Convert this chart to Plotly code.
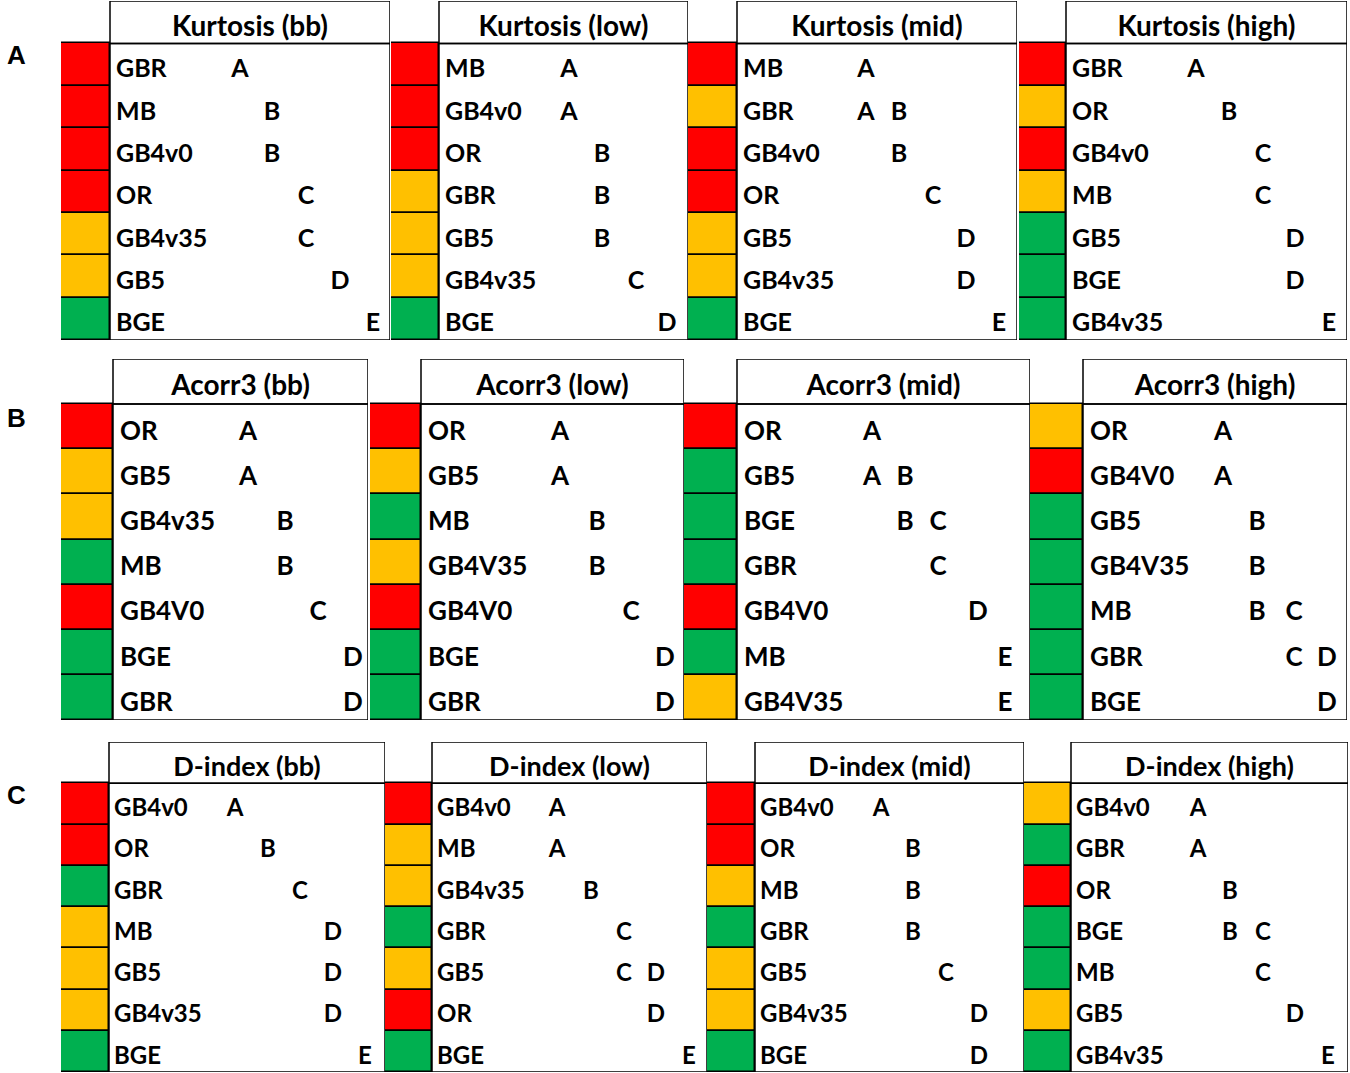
import plotly.graph_objects as go

# ---- data: one list per panel (model order, letter groups, colour class) ----
kurt_titles = ["Kurtosis (bb)", "Kurtosis (low)", "Kurtosis (mid)", "Kurtosis (high)"]
kurt_bb_models = ["GBR", "MB", "GB4v0", "OR", "GB4v35", "GB5", "BGE"]
kurt_bb_groups = ["A", "B", "B", "C", "C", "D", "E"]
kurt_bb_colors = ["r", "r", "r", "r", "o", "o", "g"]
kurt_low_models = ["MB", "GB4v0", "OR", "GBR", "GB5", "GB4v35", "BGE"]
kurt_low_groups = ["A", "A", "B", "B", "B", "C", "D"]
kurt_low_colors = ["r", "r", "r", "o", "o", "o", "g"]
kurt_mid_models = ["MB", "GBR", "GB4v0", "OR", "GB5", "GB4v35", "BGE"]
kurt_mid_groups = ["A", "AB", "B", "C", "D", "D", "E"]
kurt_mid_colors = ["r", "o", "r", "r", "o", "o", "g"]
kurt_high_models = ["GBR", "OR", "GB4v0", "MB", "GB5", "BGE", "GB4v35"]
kurt_high_groups = ["A", "B", "C", "C", "D", "D", "E"]
kurt_high_colors = ["r", "o", "r", "o", "g", "g", "g"]

acorr_titles = ["Acorr3 (bb)", "Acorr3 (low)", "Acorr3 (mid)", "Acorr3 (high)"]
acorr_bb_models = ["OR", "GB5", "GB4v35", "MB", "GB4V0", "BGE", "GBR"]
acorr_bb_groups = ["A", "A", "B", "B", "C", "D", "D"]
acorr_bb_colors = ["r", "o", "o", "g", "r", "g", "g"]
acorr_low_models = ["OR", "GB5", "MB", "GB4V35", "GB4V0", "BGE", "GBR"]
acorr_low_groups = ["A", "A", "B", "B", "C", "D", "D"]
acorr_low_colors = ["r", "o", "g", "o", "r", "g", "g"]
acorr_mid_models = ["OR", "GB5", "BGE", "GBR", "GB4V0", "MB", "GB4V35"]
acorr_mid_groups = ["A", "AB", "BC", "C", "D", "E", "E"]
acorr_mid_colors = ["r", "g", "g", "g", "r", "g", "o"]
acorr_high_models = ["OR", "GB4V0", "GB5", "GB4V35", "MB", "GBR", "BGE"]
acorr_high_groups = ["A", "A", "B", "B", "BC", "CD", "D"]
acorr_high_colors = ["o", "r", "g", "g", "g", "g", "g"]

dindex_titles = ["D-index (bb)", "D-index (low)", "D-index (mid)", "D-index (high)"]
dindex_bb_models = ["GB4v0", "OR", "GBR", "MB", "GB5", "GB4v35", "BGE"]
dindex_bb_groups = ["A", "B", "C", "D", "D", "D", "E"]
dindex_bb_colors = ["r", "r", "g", "o", "o", "o", "g"]
dindex_low_models = ["GB4v0", "MB", "GB4v35", "GBR", "GB5", "OR", "BGE"]
dindex_low_groups = ["A", "A", "B", "C", "CD", "D", "E"]
dindex_low_colors = ["r", "o", "o", "g", "o", "r", "g"]
dindex_mid_models = ["GB4v0", "OR", "MB", "GBR", "GB5", "GB4v35", "BGE"]
dindex_mid_groups = ["A", "B", "B", "B", "C", "D", "D"]
dindex_mid_colors = ["r", "r", "o", "g", "o", "o", "g"]
dindex_high_models = ["GB4v0", "GBR", "OR", "BGE", "MB", "GB5", "GB4v35"]
dindex_high_groups = ["A", "A", "B", "BC", "C", "D", "E"]
dindex_high_colors = ["o", "g", "r", "g", "g", "o", "g"]

row_letters = ["A", "B", "C"]

COLORS = {"r": "#FF0000", "o": "#FFC000", "g": "#00B050"}
W, H = 1350, 1073
FONT = "Lato"

# ---- layout geometry (pixels): block rows, then panels in each row ----
rows_geo = [
    dict(top=1, head=43, bottom=340, size=25, tsize=28, pad=6, label_y=55),
    dict(top=359, head=403, bottom=720, size=26, tsize=28, pad=7, label_y=418),
    dict(top=742, head=782, bottom=1072, size=24, tsize=27, pad=5, label_y=795),
]
panels_geo = [
    [(61, 110, 390, [240, 272, 306, 340, 373]),
     (391, 439, 688, [569, 602, 636, 667, 699]),
     (688, 737, 1017, [866, 899, 933, 966, 999]),
     (1019, 1066, 1347, [1196, 1229, 1263, 1295, 1329])],
    [(61, 113, 368, [248, 285, 318, 353, 388]),
     (370, 421, 684, [560, 597, 631, 665, 699]),
     (684, 737, 1030, [872, 905, 938, 978, 1005]),
     (1030, 1083, 1347, [1223, 1257, 1294, 1327, 1360])],
    [(61, 109, 385, [235, 268, 300, 333, 365]),
     (385, 432, 707, [557, 591, 624, 656, 689]),
     (707, 755, 1024, [881, 913, 946, 979, 1011]),
     (1024, 1071, 1348, [1198, 1230, 1263, 1295, 1328])],
]

blocks = [
    (kurt_titles, [(kurt_bb_models, kurt_bb_groups, kurt_bb_colors),
                   (kurt_low_models, kurt_low_groups, kurt_low_colors),
                   (kurt_mid_models, kurt_mid_groups, kurt_mid_colors),
                   (kurt_high_models, kurt_high_groups, kurt_high_colors)]),
    (acorr_titles, [(acorr_bb_models, acorr_bb_groups, acorr_bb_colors),
                    (acorr_low_models, acorr_low_groups, acorr_low_colors),
                    (acorr_mid_models, acorr_mid_groups, acorr_mid_colors),
                    (acorr_high_models, acorr_high_groups, acorr_high_colors)]),
    (dindex_titles, [(dindex_bb_models, dindex_bb_groups, dindex_bb_colors),
                     (dindex_low_models, dindex_low_groups, dindex_low_colors),
                     (dindex_mid_models, dindex_mid_groups, dindex_mid_colors),
                     (dindex_high_models, dindex_high_groups, dindex_high_colors)]),
]

fig = go.Figure()
layout_axes = {}
shapes = []
annotations = []
TEXT_DROP = 0.15  # push glyphs a little below the row centre, like the original

k = 0
for bi, (titles, panels) in enumerate(blocks):
    rg = rows_geo[bi]
    for pi, (models, groups, colors) in enumerate(panels):
        k += 1
        sq_l, sq_r, box_r, cols = panels_geo[bi][pi]
        xa = "x" if k == 1 else f"x{k}"
        ya = "y" if k == 1 else f"y{k}"
        xkey = "xaxis" if k == 1 else f"xaxis{k}"
        ykey = "yaxis" if k == 1 else f"yaxis{k}"
        layout_axes[xkey] = dict(domain=[sq_l / W, box_r / W], range=[sq_l, box_r],
                                 visible=False, fixedrange=True, anchor=ya)
        layout_axes[ykey] = dict(domain=[1 - rg["bottom"] / H, 1 - rg["top"] / H],
                                 range=[len(models) - 0.5, -1.5],
                                 visible=False, fixedrange=True, anchor=xa)
        rows = list(range(len(models)))

        # coloured squares
        fig.add_trace(go.Bar(
            orientation="h", y=rows, x=[sq_r - sq_l] * len(models), base=sq_l,
            width=1, marker=dict(color=[COLORS[c] for c in colors],
                                 line=dict(color="black", width=1.5)),
            xaxis=xa, yaxis=ya, showlegend=False, hoverinfo="skip"))

        # model names
        fig.add_trace(go.Scatter(
            x=[sq_r + rg["pad"]] * len(models), y=[r + TEXT_DROP for r in rows],
            text=models, mode="text", textposition="middle right",
            textfont=dict(family=FONT, size=rg["size"], color="black", weight="bold"),
            xaxis=xa, yaxis=ya, showlegend=False, hoverinfo="skip"))

        # group letters
        lx, ly, lt = [], [], []
        for r, g in zip(rows, groups):
            for ch in g:
                lx.append(cols[ord(ch) - ord("A")])
                ly.append(r + TEXT_DROP)
                lt.append(ch)
        fig.add_trace(go.Scatter(
            x=lx, y=ly, text=lt, mode="text", textposition="middle center",
            textfont=dict(family=FONT, size=rg["size"], color="black", weight="bold"),
            xaxis=xa, yaxis=ya, showlegend=False, hoverinfo="skip"))

        # panel title
        fig.add_trace(go.Scatter(
            x=[(sq_r + box_r) / 2], y=[-1 + TEXT_DROP], text=[titles[pi]],
            mode="text", textposition="middle center",
            textfont=dict(family=FONT, size=rg["tsize"], color="black", weight="bold"),
            xaxis=xa, yaxis=ya, showlegend=False, hoverinfo="skip"))

        # boxes
        shapes.append(dict(type="rect", xref=xa, yref=ya, x0=sq_r, x1=box_r,
                           y0=-1.5, y1=-0.5, line=dict(color="black", width=1.5)))
        shapes.append(dict(type="rect", xref=xa, yref=ya, x0=sq_r, x1=box_r,
                           y0=-0.5, y1=len(models) - 0.5,
                           line=dict(color="black", width=1.5)))

    annotations.append(dict(text=row_letters[bi], xref="paper", yref="paper",
                            x=16 / W, y=1 - rg["label_y"] / H, showarrow=False,
                            xanchor="center", yanchor="middle",
                            font=dict(family="Liberation Sans", size=26,
                                      color="black", weight="bold")))

fig.update_layout(
    width=W, height=H, margin=dict(l=0, r=0, t=0, b=0),
    paper_bgcolor="white", plot_bgcolor="rgba(0,0,0,0)",
    shapes=shapes, annotations=annotations, bargap=0, **layout_axes)

fig.write_html("out.html", config={"displayModeBar": False},
               post_script="document.body.style.margin = '0';")
